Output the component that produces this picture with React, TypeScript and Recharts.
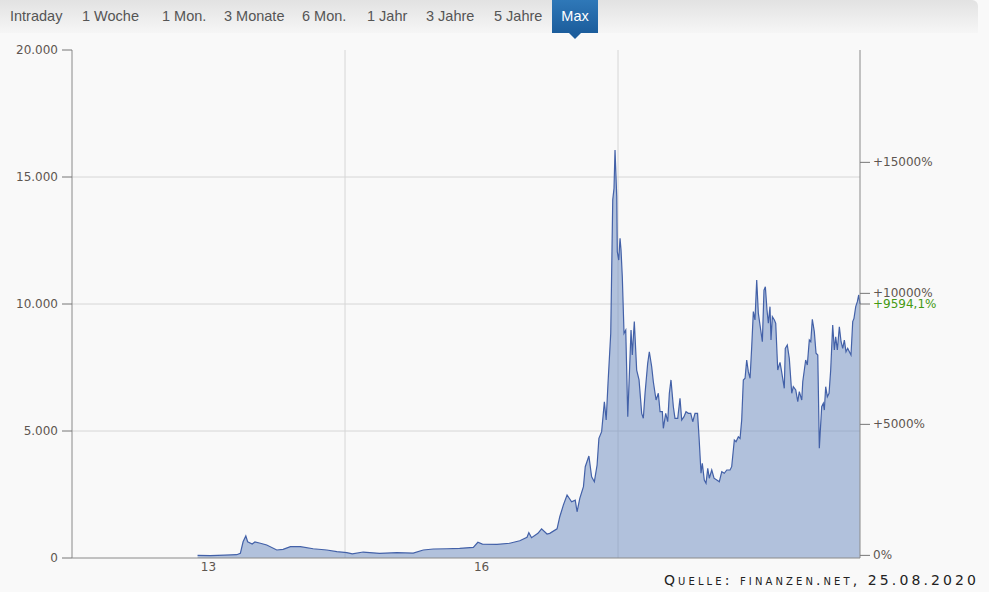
import { ComposedChart, Area, Line, XAxis, YAxis, CartesianGrid } from 'recharts'

// time in fractional years, price in EUR
const years = [
  2013.38, 2013.52, 2013.68, 2013.81, 2013.85, 2013.88, 2013.91, 2013.93, 2013.98,
  2014.01, 2014.07, 2014.14, 2014.25, 2014.32, 2014.4, 2014.51, 2014.65, 2014.8, 2014.91,
  2015.02, 2015.08, 2015.2, 2015.38, 2015.57, 2015.75, 2015.86, 2015.97,
  2016.12, 2016.26, 2016.41, 2016.46, 2016.51, 2016.67, 2016.81, 2016.92,
  2017.0, 2017.02, 2017.05, 2017.12, 2017.16, 2017.22, 2017.25, 2017.33, 2017.36, 2017.4,
  2017.44, 2017.49, 2017.53, 2017.55, 2017.58, 2017.62, 2017.64, 2017.68, 2017.71, 2017.74,
  2017.77, 2017.79, 2017.82, 2017.85, 2017.87, 2017.89, 2017.92, 2017.942, 2017.956, 2017.967,
  2017.986, 2017.992,
  2018.008, 2018.022, 2018.033, 2018.047, 2018.066, 2018.085, 2018.107, 2018.132, 2018.143,
  2018.157, 2018.179, 2018.205, 2018.231, 2018.26, 2018.278, 2018.297, 2018.326, 2018.344,
  2018.37, 2018.388, 2018.418, 2018.443, 2018.462, 2018.487, 2018.498, 2018.524, 2018.546,
  2018.564, 2018.582, 2018.608, 2018.626, 2018.656, 2018.681, 2018.7, 2018.725, 2018.747,
  2018.773, 2018.799, 2018.821, 2018.846, 2018.874, 2018.89, 2018.912, 2018.926, 2018.948,
  2018.967, 2018.986,
  2019.003, 2019.03, 2019.055, 2019.085, 2019.113, 2019.14, 2019.168, 2019.195, 2019.231,
  2019.249, 2019.278, 2019.297, 2019.322, 2019.341, 2019.359, 2019.377, 2019.396, 2019.414,
  2019.432, 2019.451, 2019.469, 2019.487, 2019.505, 2019.524, 2019.542, 2019.568, 2019.586,
  2019.604, 2019.619, 2019.637, 2019.652, 2019.67, 2019.681, 2019.696, 2019.718, 2019.733,
  2019.755, 2019.78, 2019.795, 2019.827, 2019.838, 2019.86, 2019.882, 2019.909, 2019.926,
  2019.953, 2019.975, 2019.992,
  2020.019, 2020.03, 2020.062, 2020.08, 2020.102, 2020.118, 2020.135, 2020.157, 2020.176,
  2020.195, 2020.212, 2020.238, 2020.256, 2020.267, 2020.282, 2020.3, 2020.319, 2020.337,
  2020.359, 2020.377, 2020.392, 2020.41, 2020.432, 2020.451, 2020.469, 2020.487, 2020.505,
  2020.524, 2020.542, 2020.56, 2020.579, 2020.593, 2020.612, 2020.63, 2020.645, 2020.659,
]

const prices = [
  100, 95, 110, 130, 185, 640, 866, 640, 550,
  630, 580, 510, 315, 340, 445, 445, 365, 315, 250,
  210, 160, 235, 185, 210, 195, 315, 355,
  365, 380, 420, 620, 550, 540, 580, 680,
  815, 1000, 800, 970, 1150, 945, 970, 1150, 1625, 2090,
  2480, 2215, 2280, 1820, 2350, 2810, 3595, 4015, 3200, 3005,
  3660, 4710, 4975, 6150, 5435, 6880, 8845, 14100, 14555, 16060,
  14225, 12060,
  11730, 12585, 12125, 11075, 8845, 8975, 5565, 7925, 8975,
  7990, 9305, 7400, 7010, 5695, 5500, 6485, 7665, 8120,
  7530, 6940, 6220, 6485, 5760, 5760, 5105, 5695, 5365,
  6485, 7010, 5955, 5500, 5500, 6285, 5430, 5565, 5760,
  5695, 5695, 5365, 5695, 5695, 4775, 3335, 3730, 3070,
  2940, 3530,
  3140, 3465, 3140, 3070, 3005, 3400, 3335, 3465, 3465,
  3595, 4645, 4580, 4775, 4710, 5435, 7010, 7075, 7795,
  7335, 7075, 8320, 9700, 9370, 10945, 9635, 8975, 8515,
  10550, 10680, 9765, 9240, 9895, 8580, 9500, 9370, 9240,
  7400, 7700, 7400, 6680, 8255, 8385, 7860, 6485, 6745,
  6615, 6155, 6550,
  6220, 6940, 7795, 7600, 8580, 8515, 9400, 8910, 8060,
  7990, 4320, 5955, 6090, 5825, 6745, 6350, 6485, 7400,
  9175, 8190, 8710, 8190, 9105, 8515, 8255, 8580, 8120,
  8255, 8120, 7990, 9305, 9435, 9895, 10090, 10355, 10000,
]

const priceTicks = [0, 5000, 10000, 15000, 20000]
const pctTicks = [0, 5000, 9594.1, 10000, 15000]
const currentPct = 9594.1
const yearTicks = [2013.5, 2016.5]
const yearLabels = ['13', '16']
const gridPrices = [5000, 10000, 15000]
const gridYears = [2015, 2018]

const tabs = ['Intraday', '1 Woche', '1 Mon.', '3 Monate', '6 Mon.', '1 Jahr', '3 Jahre', '5 Jahre', 'Max']
const tabLeft = [10, 82, 162, 224, 302, 367, 426, 494, 552]

// base price for the percent scale (last price = +9594,1 %)
const basePrice = prices[prices.length - 1] / (1 + currentPct / 100)
const pctMax = (20000 / basePrice - 1) * 100

const rows = years.map((t, i) => ({ t, price: prices[i] }))

const fmtPrice = (v: number) =>
  String(v).replace(/\B(?=(\d{3})+(?!\d))/g, '.')

const fmtPct = (v: number) =>
  v === 0 ? '0%' : '+' + String(v).replace('.', ',') + '%'

const axisFont = '"DejaVu Sans", Verdana, sans-serif'

function PctTick(props: any) {
  const { x, y, payload } = props
  const green = payload.value === currentPct
  return (
    <text
      x={x}
      y={y}
      dy={4}
      textAnchor="start"
      fontSize={12}
      fontFamily={axisFont}
      fill={green ? '#449a12' : '#5e5650'}
    >
      {fmtPct(payload.value)}
    </text>
  )
}

export default function App() {
  return (
    <div
      style={{
        position: 'absolute',
        left: 0,
        top: 0,
        width: 989,
        height: 592,
        background: '#f9f9f9',
        overflow: 'hidden',
        fontFamily: '"Liberation Sans", Arial, sans-serif',
      }}
    >
      <ComposedChart
        width={989}
        height={592}
        data={rows}
        margin={{ top: 50, right: 0, bottom: 14, left: 0 }}
      >
        <CartesianGrid
          stroke="#d6d6d6"
          horizontalValues={gridPrices}
          verticalValues={gridYears}
        />

        <XAxis
          dataKey="t"
          type="number"
          domain={[2012, 2020.659]}
          ticks={yearTicks}
          interval={0}
          height={20}
          tickLine={false}
          tickSize={0}
          tickMargin={4}
          tickFormatter={(v: number) => yearLabels[yearTicks.indexOf(v)]}
          axisLine={{ stroke: '#8a8a8a' }}
          tick={{ fontSize: 12, fontFamily: axisFont, fill: '#5e5650' }}
        />

        <YAxis
          width={72}
          domain={[0, 20000]}
          ticks={priceTicks}
          interval={0}
          tickSize={10}
          tickMargin={4}
          tickFormatter={fmtPrice}
          axisLine={{ stroke: '#8a8a8a' }}
          tickLine={{ stroke: '#777' }}
          tick={{ fontSize: 12, fontFamily: axisFont, fill: '#5e5650' }}
        />

        <YAxis
          yAxisId="pct"
          orientation="right"
          width={129}
          type="number"
          domain={[-100, pctMax]}
          allowDataOverflow
          ticks={pctTicks}
          interval={0}
          tickSize={10}
          tickMargin={3}
          axisLine={{ stroke: '#8a8a8a' }}
          tickLine={{ stroke: '#777' }}
          tick={(p: any) => <PctTick {...p} />}
        />

        <Area
          type="linear"
          dataKey="price"
          stroke="#4361a8"
          strokeWidth={1.2}
          fill="#6a89bf"
          fillOpacity={0.5}
          dot={false}
          activeDot={false}
          isAnimationActive={false}
        />

        {/* invisible series so the percent axis gets its scale */}
        <Line
          yAxisId="pct"
          dataKey="price"
          stroke="none"
          dot={false}
          activeDot={false}
          legendType="none"
          isAnimationActive={false}
        />
      </ComposedChart>

      <div
        style={{
          position: 'absolute',
          left: 0,
          top: 0,
          width: 978,
          height: 33,
          background: 'linear-gradient(#e2e2e2, #f6f6f6)',
          borderTopRightRadius: 6,
        }}
      >
        {tabs.map((name, i) =>
          name === 'Max' ? (
            <div
              key={name}
              style={{
                position: 'absolute',
                left: tabLeft[i],
                top: 0,
                width: 46,
                height: 33,
                background: 'linear-gradient(#2f78b8, #1c5d9c)',
                color: '#fff',
                fontSize: 14.5,
                lineHeight: '33px',
                textAlign: 'center',
              }}
            >
              {name}
              <div
                style={{
                  position: 'absolute',
                  left: 17,
                  top: 33,
                  width: 0,
                  height: 0,
                  borderLeft: '6px solid transparent',
                  borderRight: '6px solid transparent',
                  borderTop: '6px solid #1c5d9c',
                }}
              />
            </div>
          ) : (
            <div
              key={name}
              style={{
                position: 'absolute',
                left: tabLeft[i],
                top: 0,
                height: 33,
                lineHeight: '33px',
                fontSize: 14.5,
                color: '#555',
                whiteSpace: 'nowrap',
              }}
            >
              {name}
            </div>
          )
        )}
      </div>

      <div
        style={{
          position: 'absolute',
          right: 10,
          top: 572,
          fontFamily: axisFont,
          fontSize: 14,
          fontVariant: 'small-caps',
          letterSpacing: 3.1,
          color: '#222',
          whiteSpace: 'nowrap',
        }}
      >
        Quelle: finanzen.net, 25.08.2020
      </div>
    </div>
  )
}
